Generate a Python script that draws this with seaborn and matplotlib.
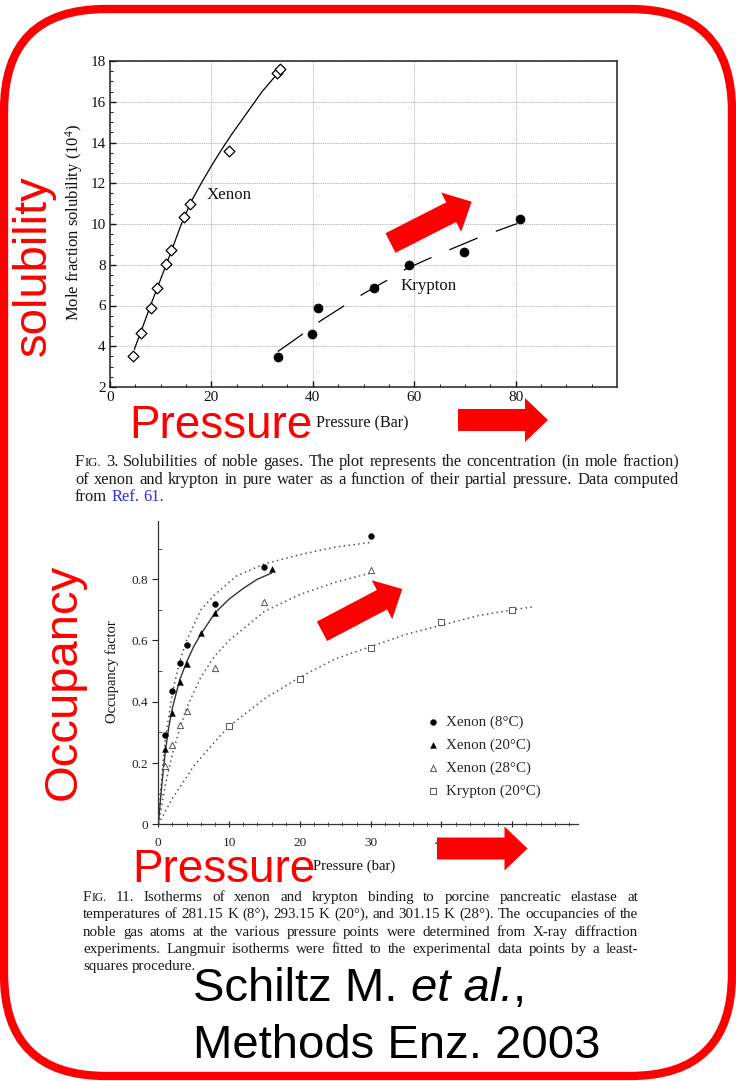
import numpy as np
import matplotlib
matplotlib.use("Agg")
import matplotlib.pyplot as plt
import seaborn as sns
from matplotlib.patches import FancyBboxPatch, Polygon

# ---------------- data: top panel (Fig. 3, solubility) ----------------
xe_pressure = [4.6, 6.1, 8.0, 9.3, 11.1, 12.0, 14.6, 15.7, 23.4, 33.0, 33.6]
xe_solub = [3.52, 4.65, 5.90, 6.86, 8.04, 8.70, 10.34, 11.0, 13.58, 17.39, 17.6]
xe_fit_pressure = [4.8, 6.0, 8.0, 10.0, 12.0, 14.0, 16.0, 18.0, 20.0, 22.0, 24.0, 26.0, 28.0, 30.0, 33.1]
xe_fit_solub = [3.85, 4.65, 6.0, 7.3, 8.6, 9.95, 11.1, 12.0, 12.85, 13.65, 14.4, 15.1, 15.8, 16.5, 17.4]
kr_pressure = [33.1, 39.9, 41.0, 52.1, 59.0, 69.9, 80.8]
kr_solub = [3.49, 4.60, 5.87, 6.84, 7.99, 8.62, 10.24]
kr_fit_pressure = [33.1, 38.3, 41.6, 46.9, 50.0, 55.3, 58.3, 63.8, 66.9, 72.2, 75.2, 80.3]
kr_fit_solub = [3.74, 4.65, 5.26, 6.10, 6.58, 7.33, 7.79, 8.40, 8.73, 9.28, 9.56, 10.02]
top_xticks = [0, 20, 40, 60, 80]
top_yticks = [2, 4, 6, 8, 10, 12, 14, 16, 18]

# ---------------- data: bottom panel (Fig. 11, occupancy) ----------------
xe8_p = [1, 2, 3, 4, 8, 15, 30]
xe8_occ = [0.29, 0.435, 0.525, 0.585, 0.72, 0.84, 0.94]
xe20_p = [1, 2, 3, 4, 6, 8, 16]
xe20_occ = [0.246, 0.364, 0.464, 0.522, 0.625, 0.69, 0.833]
xe28_p = [1, 2, 3, 4, 8, 15, 30]
xe28_occ = [0.19, 0.26, 0.325, 0.37, 0.51, 0.725, 0.83]
kr20_p = [10, 20, 30, 40, 50]
kr20_occ = [0.32, 0.475, 0.575, 0.66, 0.70]

xe8_fit_p = [0, 0.5, 1, 2, 3, 4, 6, 8, 11, 15, 20, 25, 30]
xe8_fit_occ = [0, 0.16, 0.28, 0.43, 0.53, 0.60, 0.70, 0.75, 0.81, 0.85, 0.88, 0.905, 0.92]
xe20_fit_p = [0, 0.5, 1, 1.5, 2, 3, 4, 5, 6, 8, 10, 12, 14, 16]
xe20_fit_occ = [0, 0.13, 0.24, 0.32, 0.38, 0.47, 0.53, 0.58, 0.62, 0.69, 0.735, 0.77, 0.80, 0.82]
xe28_fit_p = [0, 1, 2, 3, 4, 6, 8, 10, 15, 20, 25, 30]
xe28_fit_occ = [0, 0.13, 0.23, 0.31, 0.38, 0.48, 0.55, 0.60, 0.695, 0.75, 0.79, 0.82]
kr20_fit_p = [0, 2, 5, 8, 10, 15, 20, 25, 30, 35, 40, 45, 50, 53]
kr20_fit_occ = [0, 0.085, 0.19, 0.27, 0.32, 0.41, 0.48, 0.54, 0.58, 0.62, 0.65, 0.68, 0.70, 0.71]
bot_xticks = [0, 10, 20, 30, 40, 50]
bot_yticks = [0, 0.2, 0.4, 0.6, 0.8]
bot_yticklabels = ["0", "0.2", "0.4", "0.6", "0.8"]
legend_labels = ["Xenon (8°C)", "Xenon (20°C)", "Xenon (28°C)", "Krypton (20°C)"]

# ---------------- text ----------------
CAP1 = [
    "FIG. 3. Solubilities of noble gases. The plot represents the concentration (in mole fraction)",
    "of xenon and krypton in pure water as a function of their partial pressure. Data computed",
    "from {Ref.} {61.}",
]
CAP2 = [
    "FIG. 11. Isotherms of xenon and krypton binding to porcine pancreatic elastase at",
    "temperatures of 281.15 K (8°), 293.15 K (20°), and 301.15 K (28°). The occupancies of the",
    "noble gas atoms at the various pressure points were determined from X-ray diffraction",
    "experiments. Langmuir isotherms were fitted to the experimental data points by a least-",
    "squares procedure.",
]

# ---------------- style ----------------
sns.set_style("ticks")
plt.rcParams['font.family'] = ['Liberation Serif', 'DejaVu Serif']
plt.rcParams['mathtext.fontset'] = 'custom'
plt.rcParams['mathtext.rm'] = 'Liberation Serif'
plt.rcParams['mathtext.it'] = 'Liberation Serif:italic'

W, H = 736, 1081
fig = plt.figure(figsize=(W / 100, H / 100), dpi=100)
fig.patch.set_facecolor('white')


def axrect(l, t, r, b):
    return [l / W, 1 - b / H, (r - l) / W, (b - t) / H]


# ================= top panel =================
ax1 = fig.add_axes(axrect(110, 61, 617, 387))
ax1.set_xlim(0, 100)
ax1.set_ylim(2, 18)
sns.lineplot(x=xe_fit_pressure, y=xe_fit_solub, color='black', lw=0.9, ax=ax1,
             sort=False, estimator=None, zorder=2)
sns.lineplot(x=kr_fit_pressure, y=kr_fit_solub, color='black', lw=0.9, ax=ax1,
             sort=False, estimator=None, linestyle=(0, (24.5, 15.5)), zorder=2)
sns.scatterplot(x=xe_pressure, y=xe_solub, marker='D', s=30, facecolor='white',
                edgecolor='black', linewidth=0.9, ax=ax1, zorder=3)
sns.scatterplot(x=kr_pressure, y=kr_solub, marker='o', s=42, color='black',
                edgecolor='black', linewidth=0.5, ax=ax1, zorder=3)
ax1.set_xticks(top_xticks)
ax1.set_xticklabels([str(v) for v in top_xticks])
ax1.set_xticks(np.arange(0, 100, 5), minor=True)
ax1.set_yticks(top_yticks)
ax1.set_yticklabels([str(v) for v in top_yticks])
ax1.set_yticks(np.arange(2, 18, 0.5), minor=True)
ax1.tick_params(which='major', direction='in', length=4.5, width=1.0, labelsize=11,
                top=False, right=False, pad=3, colors='#111')
ax1.tick_params(which='minor', direction='in', length=2.5, width=0.8, top=False, right=False)
ax1.grid(which='major', color='#9a9a9a', lw=0.6, ls=(0, (1, 1.2)))
for sp in ax1.spines.values():
    sp.set_linewidth(1.1)
    sp.set_color('#222')
ax1.set_xlabel('')
ax1.set_ylabel('')
ax1.text(23.6, 11.4, 'Xenon', fontsize=12.2, ha='center', va='center', color='#111')
ax1.text(62.9, 6.96, 'Krypton', fontsize=12.2, ha='center', va='center', color='#111')

# ================= bottom panel =================
ax2 = fig.add_axes(axrect(158.3, 521, 578, 824.3))
ax2.set_xlim(0, 59.28)
ax2.set_ylim(0, 0.99)
dot_ls = (0, (1, 2.2))
sns.lineplot(x=xe8_fit_p, y=xe8_fit_occ, color='#555', lw=1.1, linestyle=dot_ls, ax=ax2,
             sort=False, estimator=None)
sns.lineplot(x=xe28_fit_p, y=xe28_fit_occ, color='#555', lw=1.1, linestyle=dot_ls, ax=ax2,
             sort=False, estimator=None)
sns.lineplot(x=kr20_fit_p, y=kr20_fit_occ, color='#555', lw=1.1, linestyle=dot_ls, ax=ax2,
             sort=False, estimator=None)
sns.lineplot(x=xe20_fit_p, y=xe20_fit_occ, color='#333', lw=1.0, ax=ax2,
             sort=False, estimator=None)
sns.scatterplot(x=xe8_p, y=xe8_occ, marker='o', s=18, color='black', edgecolor='black',
                linewidth=0.3, ax=ax2, label=legend_labels[0], zorder=3)
sns.scatterplot(x=xe20_p, y=xe20_occ, marker='^', s=18, color='black', edgecolor='black',
                linewidth=0.3, ax=ax2, label=legend_labels[1], zorder=3)
sns.scatterplot(x=xe28_p, y=xe28_occ, marker='^', s=20, facecolor='white', edgecolor='#555',
                linewidth=0.7, ax=ax2, label=legend_labels[2], zorder=3)
sns.scatterplot(x=kr20_p, y=kr20_occ, marker='s', s=16, facecolor='white', edgecolor='#555',
                linewidth=0.7, ax=ax2, label=legend_labels[3], zorder=3)
sns.despine(ax=ax2)
ax2.set_xticks(bot_xticks)
ax2.set_xticklabels([str(v) for v in bot_xticks])
ax2.set_xticks(np.arange(0, 59, 2), minor=True)
ax2.set_yticks(bot_yticks)
ax2.set_yticklabels(bot_yticklabels)
ax2.set_yticks(np.arange(0.1, 0.99, 0.2), minor=True)
ax2.tick_params(axis='x', which='major', direction='inout', length=5, width=0.8,
                labelsize=9.5, pad=7, colors='#222')
ax2.tick_params(axis='x', which='minor', direction='inout', length=3, width=0.6, colors='#333')
ax2.tick_params(axis='y', which='major', direction='out', length=4, width=0.8,
                labelsize=9.5, pad=3, colors='#222')
ax2.tick_params(axis='y', which='minor', direction='in', length=3, width=0.6, colors='#333')
for sp in ('left', 'bottom'):
    ax2.spines[sp].set_linewidth(0.9)
    ax2.spines[sp].set_color('#333')
ax2.set_xlabel('')
ax2.set_ylabel('')
ax2.legend(loc='upper left', bbox_to_anchor=(427 / W, 1 - 715 / H), bbox_transform=fig.transFigure,
           frameon=False, fontsize=10.8, handlelength=0.8, handletextpad=0.45,
           labelspacing=0.64, borderpad=0, borderaxespad=0, markerscale=1.0)

# ================= overlay (annotations, captions, frame) =================
ov = fig.add_axes([0, 0, 1, 1], zorder=10)
ov.set_xlim(0, W)
ov.set_ylim(H, 0)
ov.axis('off')
ov.patch.set_alpha(0)

renderer = fig.canvas.get_renderer()


def text_w(s, fs, style='normal', family='Liberation Serif'):
    t = ov.text(0, 0, s, fontsize=fs, style=style, family=family)
    w = t.get_window_extent(renderer).width
    t.remove()
    return w


def word_segs(word, color):
    if word.startswith('{') and word.endswith('}'):
        return [(word[1:-1], 1.0, '#2b2bff')]
    if word == 'FIG.':
        return [('F', 1.0, color), ('IG.', 0.78, color)]
    return [(word, 1.0, color)]


def draw_caption(lines, x0, x1, y0, dy, color='#1a1a1a', base_fs=10.0):
    words_l = [[word_segs(w, color) for w in ln.split(' ')] for ln in lines]
    sp = text_w('a a', base_fs) - text_w('aa', base_fs)
    maxnat = 0
    for wl in words_l[:-1]:
        nat = sum(text_w(t, base_fs * sc) for w in wl for (t, sc, c) in w) + sp * (len(wl) - 1)
        maxnat = max(maxnat, nat)
    fs = base_fs * (x1 - x0) / maxnat * 0.985
    sp = text_w('a a', fs) - text_w('aa', fs)
    for i, wl in enumerate(words_l):
        widths = [sum(text_w(t, fs * sc) for (t, sc, c) in w) for w in wl]
        if i < len(words_l) - 1 and len(wl) > 1:
            gap = (x1 - x0 - sum(widths)) / (len(wl) - 1)
        else:
            gap = sp
        x = x0
        y = y0 + i * dy
        for w, wd in zip(wl, widths):
            xx = x
            for (t, sc, c) in w:
                ov.text(xx, y, t, fontsize=fs * sc, color=c, ha='left', va='baseline',
                        family='Liberation Serif')
                xx += text_w(t, fs * sc)
            x += wd + gap


def block_arrow(tail, tip, body=22, head=44, hlen=23):
    t = np.array(tail, float)
    p = np.array(tip, float)
    d = p - t
    u = d / np.hypot(*d)
    n = np.array([-u[1], u[0]])
    b = p - u * hlen
    pts = [t + n * body / 2, b + n * body / 2, b + n * head / 2, p,
           b - n * head / 2, b - n * body / 2, t - n * body / 2]
    ov.add_patch(Polygon(pts, closed=True, fc='#ff0000', ec='none', zorder=5))


# axis labels (serif, as in the scanned figures)
ov.text(74, 222, 'Mole fraction solubility (10$^{4}$)', fontsize=12, rotation=90,
        ha='center', va='center', color='#111')
ov.text(362, 423, 'Pressure (Bar)', fontsize=11.6, ha='center', va='center', color='#111')
ov.text(112, 672, 'Occupancy factor', fontsize=10.5, rotation=90, ha='center', va='center',
        color='#111')
ov.text(354, 866, 'Pressure (bar)', fontsize=10.6, ha='center', va='center', color='#111')

# captions
draw_caption(CAP1, 75, 679, 466, 17.5)
draw_caption(CAP2, 83, 638, 901, 17.3)

# big red annotations
RED = '#ff0000'
ov.text(34, 266, 'solubility', fontsize=34, rotation=90, ha='center', va='center',
        color=RED, family='Liberation Sans', zorder=6)
ov.text(64, 682, 'Occupancy', fontsize=34, rotation=90, ha='center', va='center',
        color=RED, family='Liberation Sans', zorder=6)
ov.text(129, 438, 'Pressure', fontsize=33, ha='left', va='baseline',
        color=RED, family='Liberation Sans', zorder=6)
ov.text(132, 882, 'Pressure', fontsize=33, ha='left', va='baseline',
        color=RED, family='Liberation Sans', zorder=6)

block_arrow((390.5, 243), (471.7, 201.7))
block_arrow((458, 420), (548, 420))
block_arrow((322, 631.3), (402.3, 589))
block_arrow((437, 848.5), (527.5, 848.5))

# citation
cfs = 34
x = 193
parts = [('Schiltz M.', 'normal'), (' ', 'space'), ('et al.', 'italic'), (',', 'normal')]
spw = text_w('M M', cfs, family='Liberation Sans') - text_w('MM', cfs, family='Liberation Sans')
for s, st in parts:
    if st == 'space':
        x += spw
        continue
    ov.text(x, 1001, s, fontsize=cfs, style=st, ha='left', va='baseline',
            family='Liberation Sans', color='black')
    x += text_w(s, cfs, style=st, family='Liberation Sans')
ov.text(193, 1058, 'Methods Enz. 2003', fontsize=cfs, ha='left', va='baseline',
        family='Liberation Sans', color='black')

# rounded red frame
ov.add_patch(FancyBboxPatch((4, 9), 728, 1067, boxstyle="round,pad=0,rounding_size=102",
                            lw=6, ec=RED, fc='none', zorder=7))

fig.savefig('out.png', dpi=100, facecolor='white')
